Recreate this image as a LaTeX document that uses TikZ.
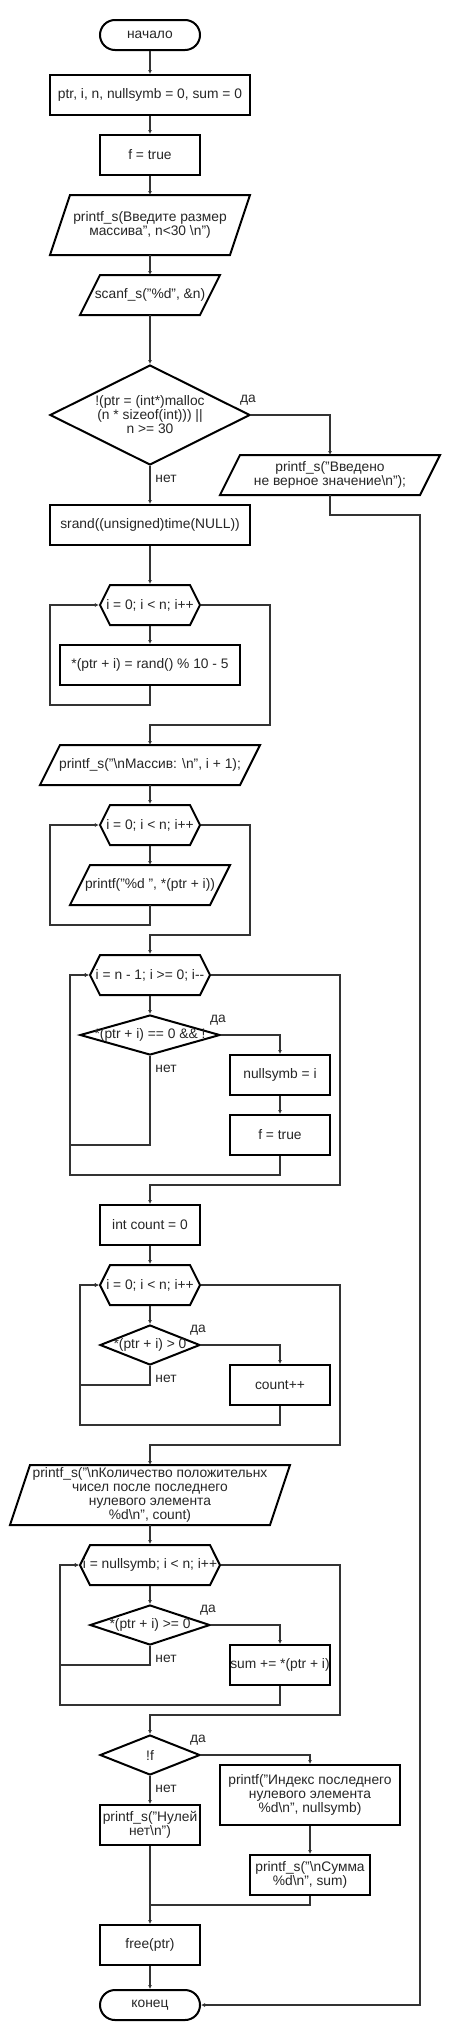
\documentclass[tikz,border=0pt]{standalone}
\usepackage{fontspec}
\setmainfont{Liberation Sans}
\usetikzlibrary{shapes.misc,shapes.symbols,shapes.geometric,arrows.meta}

\tikzset{
  base/.style={draw=black, line width=2pt, fill=white, inner sep=0pt, minimum height=40},
  txt/.style={font=\fontsize{13.8}{14}\selectfont, text=black!85, align=center, inner sep=0pt},
  term/.style={base, rounded rectangle, minimum width=100, minimum height=30, label={[txt]center:#1}},
  proc/.style={base, rectangle, label={[txt]center:#1}},
  io/.style={base, rectangle, draw=none, fill=none, outer sep=0pt,
    append after command={\pgfextra{\draw[draw=black, line width=2pt, fill=white]
      ([xshift=20pt]\tikzlastnode.north west) -- (\tikzlastnode.north east)
      -- ([xshift=-20pt]\tikzlastnode.south east) -- (\tikzlastnode.south west) -- cycle;}},
    label={[txt]center:#1}},
  loopbox/.style={base, signal, signal to=east and west, signal pointer angle=126.87, label={[txt]center:#1}},
  dec/.style={base, diamond, label={[txt]center:#1}},
  line/.style={draw=black!80, line width=1.2pt},
  arr/.style={line, -{Latex[length=4pt,width=4pt]}},
  yes/.style={txt, pos=0, xshift=-3pt, yshift=15pt},
  no/.style={txt, pos=0, xshift=16pt, yshift=-13pt}
}

\begin{document}
\begin{tikzpicture}[x=1pt,y=-1pt]
\path[use as bounding box, fill=white] (0,0) rectangle (450,2040);

\node[term={начало}] (start) at (150,35) {};
\node[proc={ptr, i, n, nullsymb = 0, sum = 0}, minimum width=200] (init) at (150,95) {};
\node[proc={f = true}, minimum width=100] (ftrue) at (150,155) {};
\node[io={printf\_s(Введите размер\\массива", n<30 \textbackslash n")}, minimum width=200, minimum height=60] (ask) at (150,225) {};
\node[io={scanf\_s("\%d", \&n)}, minimum width=140] (scan) at (150,295) {};
\node[dec={!(ptr = (int*)malloc\\(n * sizeof(int))) ||\\n >= 30}, minimum width=200, minimum height=100] (chk) at (150,415) {};
\node[io={printf\_s("Введено\\не верное значение\textbackslash n");}, minimum width=220] (err) at (330,475) {};
\node[proc={srand((unsigned)time(NULL))}, minimum width=200] (srand) at (150,525) {};

% fill
\node[loopbox={i = 0; i < n; i++}, minimum width=100] (loopa) at (150,605) {};
\node[proc={*(ptr + i) = rand() \% 10 - 5}, minimum width=180] (rnd) at (150,665) {};
\node[io={printf\_s("\textbackslash nМассив: \textbackslash n", i + 1);}, minimum width=220] (msg) at (150,765) {};

% print
\node[loopbox={i = 0; i < n; i++}, minimum width=100] (loopb) at (150,825) {};
\node[io={printf("\%d ", *(ptr + i))}, minimum width=160] (prt) at (150,885) {};

% last zero
\node[loopbox={i = n - 1; i >= 0; i-{}-}, minimum width=120] (loopc) at (150,975) {};
\node[dec={*(ptr + i) == 0 \&\& !}, minimum width=140, minimum height=40] (zero) at (150,1035) {};
\node[proc={nullsymb = i}, minimum width=100] (setnull) at (280,1075) {};
\node[proc={f = true}, minimum width=100] (fset) at (280,1135) {};

% count
\node[proc={int count = 0}, minimum width=100] (cnt) at (150,1225) {};
\node[loopbox={i = 0; i < n; i++}, minimum width=100] (loopd) at (150,1285) {};
\node[dec={*(ptr + i) > 0}, minimum width=100, minimum height=40] (pos) at (150,1345) {};
\node[proc={count++}, minimum width=100] (inc) at (280,1385) {};
\node[io={printf\_s("\textbackslash nКоличество положительнх\\чисел после последнего\\нулевого элемента\\\%d\textbackslash n", count)},
  minimum width=280, minimum height=60] (outcnt) at (150,1495) {};

% sum
\node[loopbox={i = nullsymb; i < n; i++}, minimum width=140] (loope) at (150,1565) {};
\node[dec={*(ptr + i) >= 0}, minimum width=120, minimum height=40] (geq) at (150,1625) {};
\node[proc={sum += *(ptr + i)}, minimum width=100] (add) at (280,1665) {};
\node[dec={!f}, minimum width=100, minimum height=40] (notf) at (150,1755) {};
\node[proc={printf("Индекс последнего\\нулевого элемента\\\%d\textbackslash n", nullsymb)}, minimum width=180, minimum height=60] (idx) at (310,1795) {};
\node[proc={printf\_s("\textbackslash nСумма\\\%d\textbackslash n", sum)}, minimum width=120] (summ) at (310,1875) {};
\node[proc={printf\_s("Нулей\\нет\textbackslash n")}, minimum width=100] (nozero) at (150,1825) {};
\node[proc={free(ptr)}, minimum width=100] (free) at (150,1945) {};
\node[term={конец}] (stop) at (150,2005) {};

\coordinate (ra) at (420,515);
\coordinate (ba) at (50,705);
\coordinate (ea) at (270,725);
\coordinate (bb) at (50,925);
\coordinate (eb) at (250,935);
\coordinate (bc) at (70,1145);
\coordinate (bc2) at (70,1175);
\coordinate (ec) at (340,1185);
\coordinate (bd) at (80,1385);
\coordinate (bd2) at (80,1425);
\coordinate (ed) at (340,1445);
\coordinate (be) at (60,1665);
\coordinate (be2) at (60,1705);
\coordinate (ee) at (340,1715);
\coordinate (join) at (150,1905);

\draw[arr] (start) -- (init);
\draw[arr] (init) -- (ftrue);
\draw[arr] (ftrue) -- (ask);
\draw[arr] (ask) -- (scan);
\draw[arr] (scan) -- (chk);
\draw[arr] (chk.east) -| (err.north) node[yes] {да};
\draw[arr] (chk.south) -- (srand.north) node[no] {нет};
\draw[arr] (err.south) |- (ra) |- (stop.east);
\draw[arr] (srand) -- (loopa);

\draw[arr] (loopa) -- (rnd);
\draw[arr] (rnd.south) |- (ba) |- (loopa.west);
\draw[arr] (loopa.east) -| (ea) -| (msg.north);
\draw[arr] (msg) -- (loopb);

\draw[arr] (loopb) -- (prt);
\draw[arr] (prt.south) |- (bb) |- (loopb.west);
\draw[arr] (loopb.east) -| (eb) -| (loopc.north);

\draw[arr] (loopc) -- (zero);
\draw[arr] (zero.east) -| (setnull.north) node[yes] {да};
\draw[arr] (setnull) -- (fset);
\draw[arr] (zero.south) |- (bc) node[no] {нет} |- (loopc.west);
\draw[arr] (fset.south) |- (bc2) |- (loopc.west);
\draw[arr] (loopc.east) -| (ec) -| (cnt.north);

\draw[arr] (cnt) -- (loopd);
\draw[arr] (loopd) -- (pos);
\draw[arr] (pos.east) -| (inc.north) node[yes] {да};
\draw[arr] (pos.south) |- (bd) node[no] {нет} |- (loopd.west);
\draw[arr] (inc.south) |- (bd2) |- (loopd.west);
\draw[arr] (loopd.east) -| (ed) -| (outcnt.north);

\draw[arr] (outcnt) -- (loope);
\draw[arr] (loope) -- (geq);
\draw[arr] (geq.east) -| (add.north) node[yes] {да};
\draw[arr] (geq.south) |- (be) node[no] {нет} |- (loope.west);
\draw[arr] (add.south) |- (be2) |- (loope.west);
\draw[arr] (loope.east) -| (ee) -| (notf.north);

\draw[arr] (notf.east) -| (idx.north) node[yes] {да};
\draw[arr] (notf.south) -- (nozero.north) node[no] {нет};
\draw[arr] (idx) -- (summ);
\draw[line] (summ.south) |- (join);
\draw[arr] (nozero) -- (free);
\draw[arr] (free) -- (stop);

\end{tikzpicture}
\end{document}
